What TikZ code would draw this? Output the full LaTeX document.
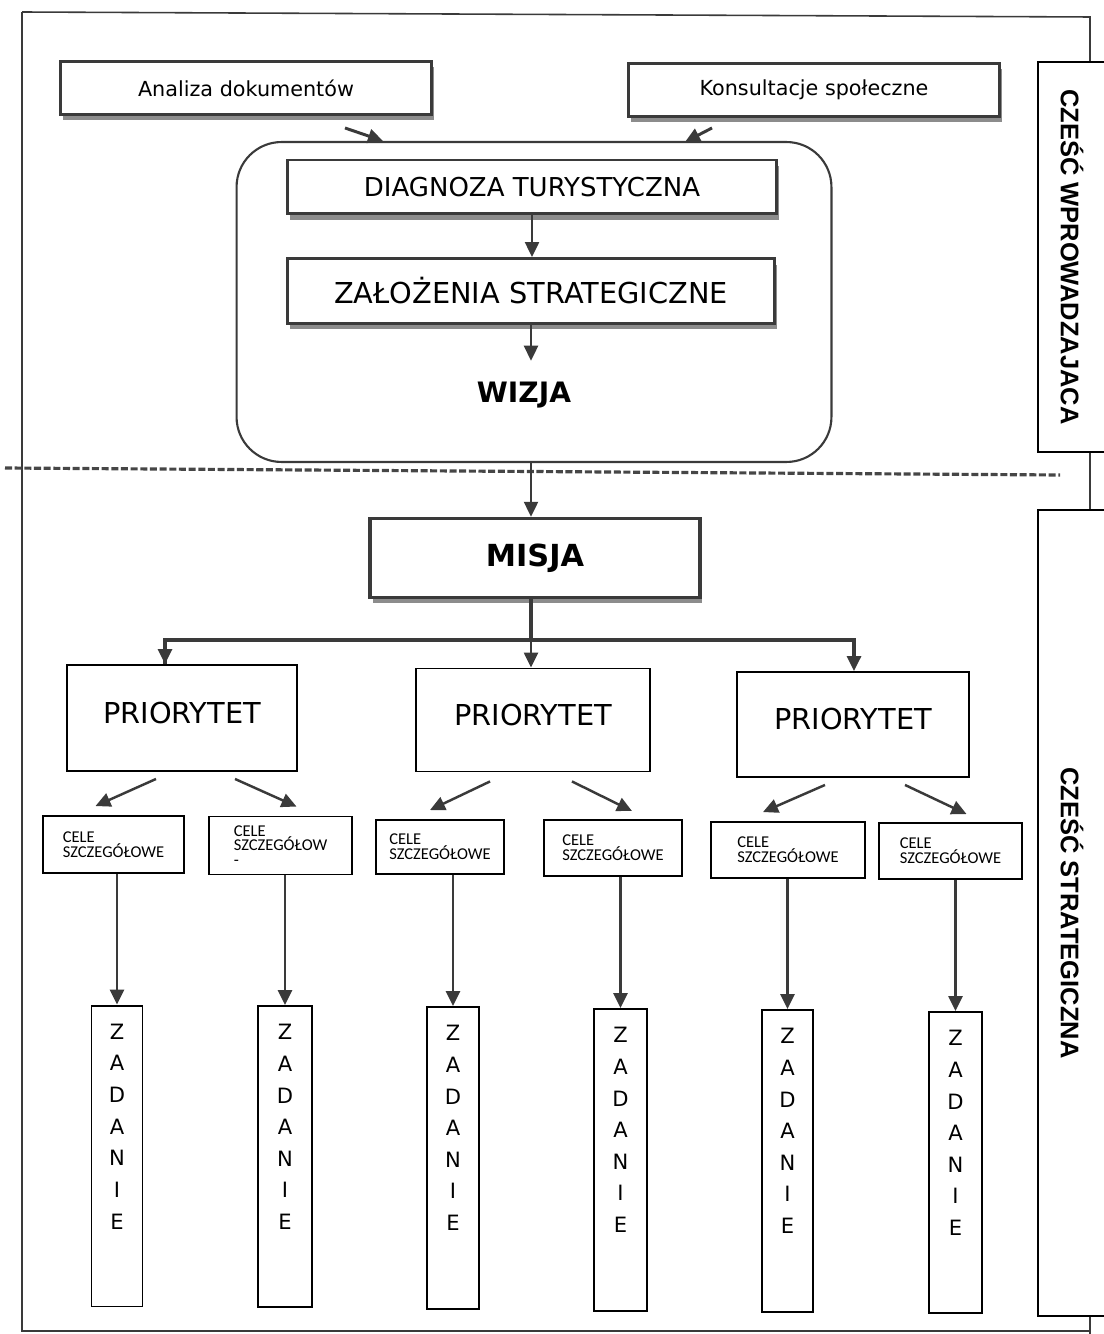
\documentclass[tikz,border=0pt]{standalone}
\usepackage{fontspec}
\setmainfont{DejaVu Sans}
\newfontfamily\arialfont{Liberation Sans}
\newfontfamily\calfont{Carlito}
\usepackage{tikz}
\usetikzlibrary{arrows.meta,positioning,calc,shadows}
\definecolor{lnA}{HTML}{3A3A3A}
\definecolor{shA}{HTML}{8C8C8C}

\begin{document}
\begin{tikzpicture}[x=0.02cm, y=-0.02cm,
  every node/.style={font=\fontsize{11.8}{14}\selectfont},
  arr/.style={lnA, line width=1.4pt, -{Triangle[length=0.3cm,width=0.28cm]}},
  shbox/.style={draw=lnA, line width=1.7pt, fill=white,
    drop shadow={shadow xshift=0.05cm, shadow yshift=-0.12cm, fill=shA, opacity=1}},
  pbox/.style={draw=black, line width=1.1pt, fill=white, text depth=0.22cm,
    font=\fontsize{16.4}{19}\selectfont},
  cbox/.style={draw=black, line width=1.1pt, fill=white, align=left,
    font=\calfont\fontsize{9.4}{8.4}\selectfont},
  zbox/.style={draw=black, line width=1.1pt, fill=white},
  ztxt/.style={align=center, inner sep=0pt, font=\fontsize{12}{18}\selectfont},
  side/.style={draw=black, line width=1.1pt, fill=white, rotate=-90, minimum height=1.36cm,
    font=\arialfont\bfseries\fontsize{14.5}{17}\selectfont}
]
  \useasboundingbox (0,0) rectangle (1104,1334);
  \draw[lnA, line width=0.9pt] (22,12) -- (1090,17) -- (1090,1334);
  \draw[lnA, line width=0.9pt] (22,12) -- (22,1331) -- (1090,1331);
  \draw[shA!50!black, line width=1.8pt, dash pattern=on 4pt off 1.5pt] (5,468) -- (1060,475);

  \node[side, minimum width=7.8cm] (intro) at (1072,257) {CZEŚĆ WPROWADZAJACA};
  \node[side, minimum width=16.12cm] (strat) at (1072,913) {CZEŚĆ STRATEGICZNA};

  \node[shbox, minimum width=7.44cm, minimum height=1.06cm] (anal) at (246,88) {Analiza dokumentów};
  \node[shbox, minimum width=7.44cm, minimum height=1.06cm] (kons) at (814,90) {Konsultacje społeczne};

  \node[draw=lnA, line width=1.2pt, rounded corners=0.9cm, minimum width=11.9cm, minimum height=6.4cm] (wiz) at (534,302) {};
  \node[shbox, minimum width=9.78cm, minimum height=1.08cm, font=\fontsize{14.8}{17}\selectfont] (diag) at (532,187) {DIAGNOZA TURYSTYCZNA};
  \node[shbox, minimum width=9.74cm, minimum height=1.3cm, font=\fontsize{16.4}{19}\selectfont] (zal) at (531,291) {ZAŁOŻENIA STRATEGICZNE};
  \node[font=\bfseries\fontsize{16}{19}\selectfont] (wizja) at (524,395) {WIZJA};
  \coordinate (bar) at (531,640);
  \node[shbox, line width=2pt, minimum width=6.6cm, minimum height=1.58cm, font=\bfseries\fontsize{17.3}{20}\selectfont] (misja) at (535,558) {MISJA};

  \draw[arr, line width=1.7pt] ([shift={(99,12)}]anal.south) -- ([shift={(-151,0)}]wiz.north);
  \draw[arr, line width=1.7pt] ([shift={(-102,10)}]kons.south) -- ([shift={(151,1)}]wiz.north);
  \draw[arr] (diag.south) -- (diag.south |- zal.north);
  \draw[arr, shorten >=0.3cm] (zal.south) -- (zal.south |- wizja.north);
  \draw[arr] (wiz.south -| bar) -- (misja.north -| bar);

  \node[pbox, minimum width=4.6cm, minimum height=2.12cm] (p1) at (182,718) {PRIORYTET};
  \node[pbox, minimum width=4.68cm, minimum height=2.06cm] (p2) at (533,720) {PRIORYTET};
  \node[pbox, minimum width=4.64cm, minimum height=2.1cm] (p3) at (853,724.5) {PRIORYTET};

  \draw[lnA, line width=1.8pt] (misja.south -| bar) -- (bar);
  \draw[arr, line width=1.8pt] ([shift={(-17,0)}]p1.north) |- (bar) -| ([shift={(1,0)}]p3.north);
  \draw[arr, line width=1.8pt] ([shift={(-17,0)}]p1.north |- bar) -- ([shift={(-17,0)}]p1.north);
  \draw[arr] (bar) -- (bar |- p2.north);

  \node[cbox, minimum width=2.82cm, minimum height=1.14cm] (c1) at (113.5,844.5) {CELE\\SZCZEGÓŁOWE};
  \node[cbox, minimum width=2.86cm, minimum height=1.16cm] (c2) at (280.5,845.5) {CELE\\SZCZEGÓŁOW\\-};
  \node[cbox, minimum width=2.56cm, minimum height=1.08cm] (c3) at (440,847) {CELE\\SZCZEGÓŁOWE};
  \node[cbox, minimum width=2.76cm, minimum height=1.12cm] (c4) at (613,848) {CELE\\SZCZEGÓŁOWE};
  \node[cbox, minimum width=3.08cm, minimum height=1.12cm] (c5) at (788,850) {CELE\\SZCZEGÓŁOWE};
  \node[cbox, minimum width=2.86cm, minimum height=1.12cm] (c6) at (950.5,851) {CELE\\SZCZEGÓŁOWE};

  \draw[arr] ([shift={(-26,7)}]p1.south) -- ([shift={(-18,-9)}]c1.north);
  \draw[arr] ([shift={(53,7)}]p1.south) -- ([shift={(16,-9)}]c2.north);
  \draw[arr] ([shift={(-43,9)}]p2.south) -- ([shift={(-10,-9)}]c3.north);
  \draw[arr] ([shift={(39,9)}]p2.south) -- ([shift={(19,-8)}]c4.north);
  \draw[arr] ([shift={(-28,7)}]p3.south) -- ([shift={(-25,-9)}]c5.north);
  \draw[arr] ([shift={(52,7)}]p3.south) -- ([shift={(16,-8)}]c6.north);

  \node[zbox, minimum width=1.02cm, minimum height=6.02cm] (z1) at (117,1156) {};
  \node[zbox, minimum width=1.08cm, minimum height=6.02cm] (z2) at (285,1156.5) {};
  \node[zbox, minimum width=1.04cm, minimum height=6.04cm] (z3) at (453,1158) {};
  \node[zbox, minimum width=1.06cm, minimum height=6.04cm] (z4) at (620.5,1160) {};
  \node[zbox, minimum width=1.02cm, minimum height=6.04cm] (z5) at (787.5,1161) {};
  \node[zbox, minimum width=1.06cm, minimum height=6.02cm] (z6) at (955.5,1162.5) {};
  \foreach \i in {1,...,6} {
    \node[ztxt, below=0.38cm of z\i.north] (t\i) {Z\\A\\D\\A\\N\\I\\E};
    \draw[arr] (c\i.south -| z\i.north) -- (z\i.north);
  }
\end{tikzpicture}
\end{document}
